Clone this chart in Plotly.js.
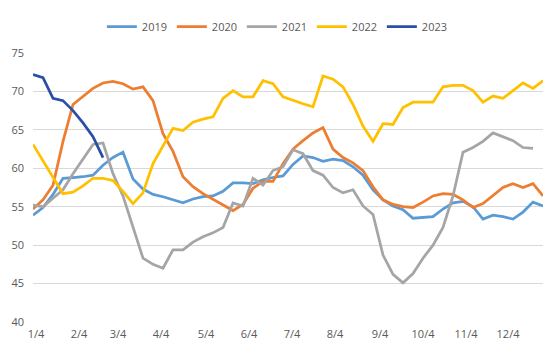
<!DOCTYPE html>
<html>
<head>
<meta charset="utf-8">
<script src="https://cdn.plot.ly/plotly-3.0.1.min.js"></script>
<style>html,body{margin:0;padding:0;background:#fff;}#chart{width:560px;height:354px;}</style>
</head>
<body>
<div id="chart"></div>
<script>
var weeks = [1,2,3,4,5,6,7,8,9,10,11,12,13,14,15,16,17,18,19,20,21,22,23,24,25,26,27,28,29,30,31,32,33,34,35,36,37,38,39,40,41,42,43,44,45,46,47,48,49,50,51,52];
var y2019 = [53.9,54.9,56.6,58.7,58.8,58.9,59.1,60.4,61.4,62.1,58.6,57.3,56.6,56.3,55.9,55.5,56.0,56.3,56.4,57.0,58.1,58.1,58.0,58.5,58.8,59.0,60.5,61.6,61.4,60.9,61.2,61.0,60.2,59.1,57.2,55.9,55.1,54.6,53.5,53.6,53.7,54.7,55.5,55.7,55.0,53.4,53.9,53.7,53.4,54.3,55.6,55.1];
var y2020 = [54.7,55.9,57.8,63.5,68.3,69.3,70.4,71.1,71.3,71.0,70.3,70.6,68.8,64.5,62.2,58.9,57.6,56.7,56.0,55.3,54.5,55.3,57.4,58.3,58.3,60.6,62.5,63.6,64.6,65.3,62.5,61.4,60.7,59.7,57.6,55.9,55.3,55.0,54.9,55.6,56.4,56.7,56.6,55.9,54.9,55.4,56.4,57.5,58.0,57.5,58.0,56.4];
var y2021 = [55.2,55.0,56.1,57.2,59.3,61.2,63.1,63.3,59.3,56.4,52.5,48.3,47.5,47.0,49.4,49.4,50.4,51.1,51.6,52.3,55.5,55.1,58.7,57.8,59.7,60.2,62.4,61.9,59.7,59.1,57.5,56.8,57.2,55.1,54.0,48.7,46.2,45.1,46.3,48.3,50.0,52.3,56.4,62.1,62.7,63.5,64.6,64.1,63.6,62.7,62.6,null];
var y2022 = [63.1,61.0,58.9,56.7,56.9,57.7,58.7,58.7,58.4,57.0,55.4,56.8,60.6,63.0,65.2,64.9,66.0,66.4,66.7,69.1,70.1,69.3,69.3,71.4,71.0,69.3,68.8,68.4,68.0,72.0,71.6,70.6,68.3,65.5,63.5,65.8,65.7,67.9,68.6,68.6,68.6,70.6,70.8,70.8,70.1,68.6,69.4,69.1,70.1,71.1,70.4,71.4];
var y2023 = [72.2,71.8,69.1,68.8,67.5,65.9,64.1,61.4];
var tickPos = [1.3,5.6,9.5,13.8,18.3,22.6,26.9,31.2,35.7,40.0,44.3,48.5];
var tickText = ['1/4','2/4','3/4','4/4','5/4','6/4','7/4','8/4','9/4','10/4','11/4','12/4'];
var seriesNames = ['2019','2020','2021','2022','2023'];
var seriesData = [y2019, y2020, y2021, y2022, y2023];
var colors = ['#5B9BD5','#ED7D31','#A5A5A5','#FFC000','#2B4FA6'];

var traces = seriesData.map(function(d, k){
  return {
    x: weeks.slice(0, d.length), y: d, name: seriesNames[k], type: 'scatter', mode: 'lines',
    line: {color: colors[k], width: 2.75}, connectgaps: false
  };
});

var layout = {
  width: 560, height: 354,
  margin: {l: 33, r: 17, t: 47, b: 32},
  paper_bgcolor: '#ffffff', plot_bgcolor: '#ffffff',
  font: {family: 'Open Sans, Noto Sans, sans-serif', size: 11, color: '#595959'},
  showlegend: true,
  legend: {
    orientation: 'h', x: 0.135, xanchor: 'left', y: 1.098, yanchor: 'middle',
    font: {size: 11, color: '#595959'}, entrywidth: 25, entrywidthmode: 'pixels',
    bgcolor: 'rgba(0,0,0,0)', traceorder: 'normal'
  },
  xaxis: {
    range: [1, 52], tickmode: 'array', tickvals: tickPos, ticktext: tickText,
    showgrid: false, zeroline: false, showline: false, ticks: '',
    ticklabelstandoff: 4, fixedrange: true
  },
  yaxis: {
    range: [40, 75], tickmode: 'array', tickvals: [40,45,50,55,60,65,70,75],
    showgrid: true, gridcolor: '#D9D9D9', gridwidth: 1, zeroline: false, showline: false,
    ticks: '', ticklabelstandoff: 8, fixedrange: true
  }
};

Plotly.newPlot('chart', traces, layout, {displayModeBar: false, staticPlot: true});
</script>
</body>
</html>
